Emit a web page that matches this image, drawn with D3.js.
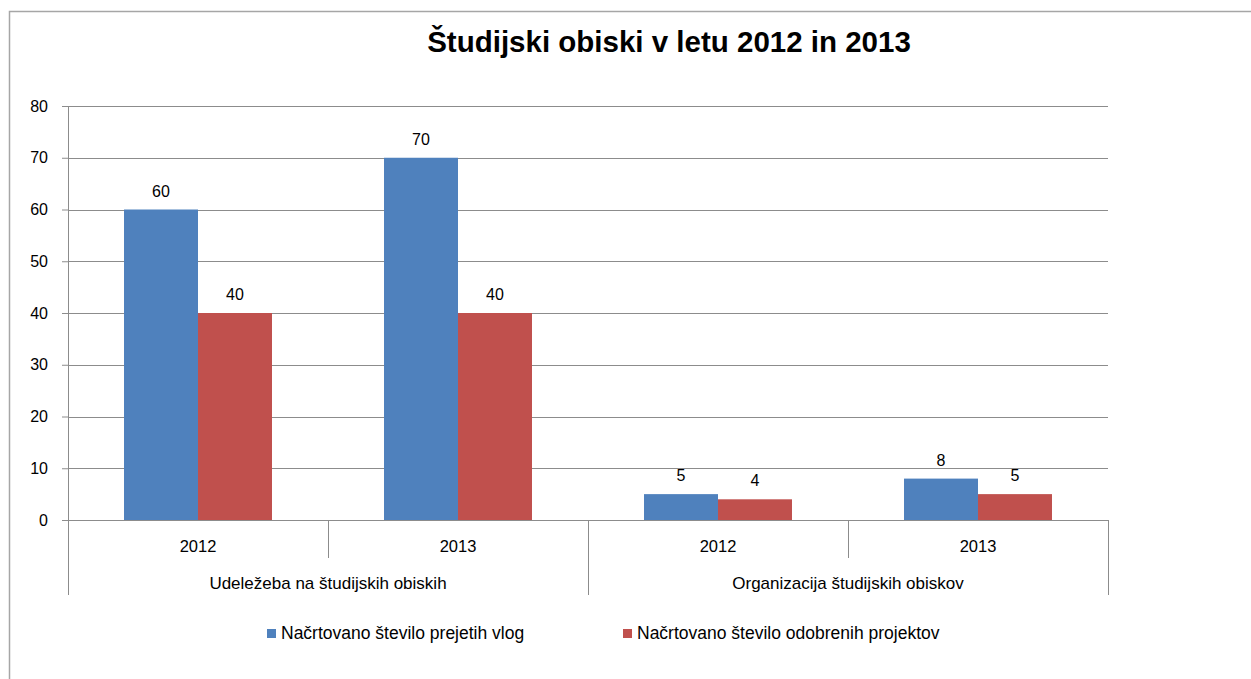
<!DOCTYPE html>
<html>
<head>
<meta charset="utf-8">
<script src="https://cdnjs.cloudflare.com/ajax/libs/d3/7.8.5/d3.min.js"></script>
<style>
  body { margin: 0; background: #fff; }
  text { font-family: "Liberation Sans", Arial, sans-serif; fill: #000; }
</style>
</head>
<body>
<svg id="chart" width="1251" height="679"></svg>
<script>
// data
var groups = ["Udeležeba na študijskih obiskih", "Organizacija študijskih obiskov"];
var years = ["2012", "2013"];
var seriesNames = ["Načrtovano število prejetih vlog", "Načrtovano število odobrenih projektov"];
var prejete = [60, 70, 5, 8];
var odobreni = [40, 40, 4, 5];
var yTicks = [0, 10, 20, 30, 40, 50, 60, 70, 80];
var colors = ["#4F81BD", "#C0504D"];

var svg = d3.select("#chart");
var plotLeft = 68, plotRight = 1108, plotTop = 106, plotBottom = 520;
var axisColor = "#8c8c8c";

// categories: group x year
var cats = [];
groups.forEach(function (g, gi) {
  years.forEach(function (yr) {
    cats.push({ group: g, gi: gi, year: yr });
  });
});
cats.forEach(function (c, i) {
  c.values = [prejete[i], odobreni[i]];
  c.key = c.gi + "-" + c.year;
});

var x = d3.scaleBand()
  .domain(cats.map(function (c) { return c.key; }))
  .range([plotLeft, plotRight])
  .paddingInner(0)
  .paddingOuter(0);

var inner = d3.scaleBand()
  .domain([0, 1])
  .range([0, x.bandwidth()])
  .paddingOuter(0.757)
  .paddingInner(0);

var y = d3.scaleLinear().domain([0, 80]).range([plotBottom, plotTop]);

//frame
svg.append("path")
  .attr("d", "M9.5,679 L9.5,11.5 L1251,11.5")
  .attr("fill", "none")
  .attr("stroke", "#a6a6a6")
  .attr("stroke-width", 1.5);

//title
svg.append("text")
  .attr("x", 669)
  .attr("y", 52)
  .attr("text-anchor", "middle")
  .style("font-size", "29.5px")
  .style("font-weight", "bold")
  .text("Študijski obiski v letu 2012 in 2013");

//gridlines
svg.append("g")
  .selectAll("line")
  .data(yTicks.filter(function (d) { return d > 0; }))
  .enter()
  .append("line")
  .attr("x1", plotLeft)
  .attr("x2", plotRight)
  .attr("y1", function (d) { return Math.round(y(d)) + 0.5; })
  .attr("y2", function (d) { return Math.round(y(d)) + 0.5; })
  .attr("stroke", axisColor)
  .attr("stroke-width", 1);

//y axis
var yAxis = svg.append("g")
  .attr("transform", "translate(" + plotLeft + ",0)")
  .call(d3.axisLeft(y).tickValues(yTicks).tickSize(6).tickPadding(14));
yAxis.select(".domain").remove();
yAxis.selectAll(".tick line").attr("stroke", axisColor);
yAxis.selectAll(".tick text")
  .style("font-size", "16px")
  .style("font-family", "'Liberation Sans', Arial, sans-serif")
  .attr("fill", "#000");

//bars
var catG = svg.append("g")
  .selectAll("g")
  .data(cats)
  .enter()
  .append("g")
  .attr("transform", function (c) { return "translate(" + x(c.key) + ",0)"; });

catG.selectAll("rect")
  .data(function (c) { return c.values; })
  .enter()
  .append("rect")
  .attr("x", function (d, i) { return inner(i); })
  .attr("width", inner.bandwidth())
  .attr("y", function (d) { return y(d); })
  .attr("height", function (d) { return y(0) - y(d); })
  .attr("fill", function (d, i) { return colors[i]; });

catG.selectAll("text")
  .data(function (c) { return c.values; })
  .enter()
  .append("text")
  .attr("x", function (d, i) { return inner(i) + inner.bandwidth() / 2; })
  .attr("y", function (d) { return y(d) - 13; })
  .attr("text-anchor", "middle")
  .style("font-size", "16px")
  .text(function (d) { return d; });

//x axis lines
svg.append("line")
  .attr("x1", plotLeft).attr("x2", plotRight)
  .attr("y1", plotBottom + 0.5).attr("y2", plotBottom + 0.5)
  .attr("stroke", axisColor);
svg.append("line")
  .attr("x1", plotLeft + 0.5).attr("x2", plotLeft + 0.5)
  .attr("y1", plotTop).attr("y2", 595)
  .attr("stroke", axisColor);

// year ticks
var bounds = cats.map(function (c) { return x(c.key); }).concat([plotRight]);
svg.append("g")
  .selectAll("line")
  .data(bounds)
  .enter()
  .append("line")
  .attr("x1", function (d) { return Math.round(d) + 0.5; })
  .attr("x2", function (d) { return Math.round(d) + 0.5; })
  .attr("y1", plotBottom)
  .attr("y2", function (d, i) { return i % 2 === 0 ? 595 : 558; })
  .attr("stroke", axisColor);

svg.append("g")
  .selectAll("text")
  .data(cats)
  .enter()
  .append("text")
  .attr("x", function (c) { return x(c.key) + x.bandwidth() / 2; })
  .attr("y", 552)
  .attr("text-anchor", "middle")
  .style("font-size", "16.5px")
  .text(function (c) { return c.year; });

svg.append("g")
  .selectAll("text")
  .data(groups)
  .enter()
  .append("text")
  .attr("x", function (g, gi) { return x(gi + "-" + years[0]) + x.bandwidth(); })
  .attr("y", 589)
  .attr("text-anchor", "middle")
  .style("font-size", "17px")
  .text(function (g) { return g; });

//legend
var legendX = [267, 623];
var legend = svg.append("g")
  .selectAll("g")
  .data(seriesNames)
  .enter()
  .append("g")
  .attr("transform", function (d, i) { return "translate(" + legendX[i] + ",629)"; });
legend.append("rect")
  .attr("width", 9)
  .attr("height", 9)
  .attr("fill", function (d, i) { return colors[i]; });
legend.append("text")
  .attr("x", 14)
  .attr("y", 10)
  .style("font-size", "17.5px")
  .text(function (d) { return d; });
</script>
</body>
</html>
